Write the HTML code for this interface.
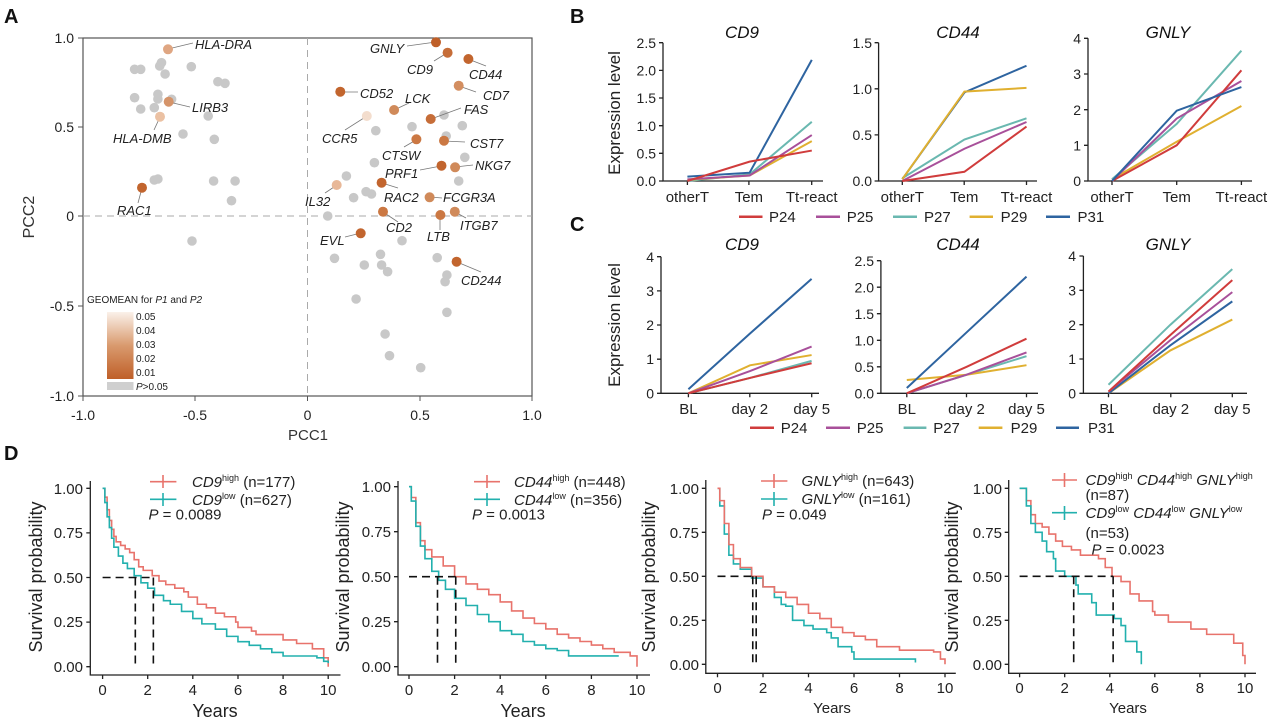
<!DOCTYPE html>
<html><head><meta charset="utf-8"><style>
body{margin:0;background:#fff}
svg{display:block;font-family:"Liberation Sans",Arial,sans-serif}
.it{font-style:italic}
.ax{stroke:#222;stroke-width:1.3;fill:none}
.ns{vector-effect:non-scaling-stroke;fill:none}
</style></head><body>
<svg width="1270" height="724" viewBox="0 0 1270 724" xmlns="http://www.w3.org/2000/svg">
<defs><linearGradient id="gr" x1="0" y1="0" x2="0" y2="1"><stop offset="0" stop-color="#fbf1ea"/><stop offset="0.5" stop-color="#d99a6e"/><stop offset="1" stop-color="#bf5f28"/></linearGradient></defs>
<g font-weight="bold" font-size="20" fill="#111"><text x="4" y="23">A</text><text x="570" y="23">B</text><text x="570" y="231">C</text><text x="4" y="460">D</text></g>

<!-- Panel A -->
<rect x="83" y="38" width="449" height="358" fill="none" stroke="#555" stroke-width="1.2"/>
<line x1="307.5" y1="38" x2="307.5" y2="396" stroke="#aaa" stroke-dasharray="7,5"/>
<line x1="83" y1="216" x2="532" y2="216" stroke="#aaa" stroke-dasharray="7,5"/>
<g stroke="#555"><line x1="78" y1="38" x2="83" y2="38"/><line x1="78" y1="127" x2="83" y2="127"/><line x1="78" y1="216" x2="83" y2="216"/><line x1="78" y1="306" x2="83" y2="306"/><line x1="78" y1="396" x2="83" y2="396"/>
<line x1="83" y1="396" x2="83" y2="401"/><line x1="195" y1="396" x2="195" y2="401"/><line x1="307.5" y1="396" x2="307.5" y2="401"/><line x1="420" y1="396" x2="420" y2="401"/><line x1="532" y1="396" x2="532" y2="401"/></g>
<g font-size="14" fill="#222" text-anchor="end"><text x="74" y="43">1.0</text><text x="74" y="132">0.5</text><text x="74" y="221">0</text><text x="74" y="311">-0.5</text><text x="74" y="401">-1.0</text></g>
<g font-size="14" fill="#222" text-anchor="middle"><text x="83" y="420">-1.0</text><text x="195" y="420">-0.5</text><text x="307.5" y="420">0</text><text x="420" y="420">0.5</text><text x="532" y="420">1.0</text></g>
<text x="308" y="440" font-size="15" text-anchor="middle" fill="#333">PCC1</text>
<text transform="translate(34,217) rotate(-90)" font-size="16" text-anchor="middle" fill="#333">PCC2</text>
<g fill="#c8c8c8">
<circle cx="134.6" cy="69.3" r="4.8"/><circle cx="140.7" cy="69.3" r="4.8"/><circle cx="161.5" cy="62.7" r="4.8"/><circle cx="159.7" cy="66" r="4.8"/><circle cx="165.1" cy="74" r="4.8"/><circle cx="191.3" cy="66.7" r="4.8"/><circle cx="217.9" cy="81.7" r="4.8"/><circle cx="225" cy="83.3" r="4.8"/><circle cx="134.6" cy="97.7" r="4.8"/><circle cx="157.9" cy="94.3" r="4.8"/><circle cx="157.9" cy="99" r="4.8"/><circle cx="171.6" cy="99.3" r="4.8"/><circle cx="140.7" cy="109" r="4.8"/><circle cx="154.3" cy="107.7" r="4.8"/><circle cx="208.2" cy="116" r="4.8"/><circle cx="183" cy="134" r="4.8"/><circle cx="214.3" cy="139.3" r="4.8"/><circle cx="154.3" cy="180" r="4.8"/><circle cx="157.9" cy="179" r="4.8"/><circle cx="213.6" cy="181" r="4.8"/><circle cx="235.1" cy="181" r="4.8"/><circle cx="231.5" cy="200.7" r="4.8"/><circle cx="192" cy="241" r="4.8"/>
<circle cx="375.8" cy="130.7" r="4.8"/><circle cx="412" cy="126.7" r="4.8"/><circle cx="444" cy="115" r="4.8"/><circle cx="462.3" cy="125.7" r="4.8"/><circle cx="446.2" cy="136" r="4.8"/><circle cx="464.8" cy="157.3" r="4.8"/><circle cx="374.4" cy="162.7" r="4.8"/><circle cx="346.4" cy="176" r="4.8"/><circle cx="458.7" cy="181" r="4.8"/><circle cx="366.1" cy="191.7" r="4.8"/><circle cx="371.5" cy="194" r="4.8"/><circle cx="353.6" cy="197.7" r="4.8"/><circle cx="327.7" cy="216" r="4.8"/><circle cx="402" cy="240.7" r="4.8"/><circle cx="334.5" cy="258.3" r="4.8"/><circle cx="364.3" cy="265" r="4.8"/><circle cx="380.5" cy="254.3" r="4.8"/><circle cx="381.6" cy="265" r="4.8"/><circle cx="387.6" cy="271.7" r="4.8"/><circle cx="437.2" cy="257.7" r="4.8"/><circle cx="446.9" cy="275" r="4.8"/><circle cx="445.1" cy="281.7" r="4.8"/><circle cx="356.1" cy="299" r="4.8"/><circle cx="446.9" cy="312.3" r="4.8"/><circle cx="385.1" cy="334" r="4.8"/><circle cx="389.5" cy="355.7" r="4.8"/><circle cx="420.7" cy="367.7" r="4.8"/>
</g>
<g stroke="#777" stroke-width="0.8">
<line x1="168" y1="49" x2="193" y2="43"/><line x1="169" y1="102" x2="190" y2="107"/><line x1="160" y1="117" x2="154" y2="130"/><line x1="142" y1="188" x2="138" y2="203"/>
<line x1="407" y1="46" x2="436" y2="42"/><line x1="434" y1="61" x2="447" y2="53"/><line x1="468" y1="59" x2="486" y2="66"/><line x1="459" y1="86" x2="476" y2="92"/>
<line x1="340" y1="92" x2="358" y2="92"/><line x1="394" y1="110" x2="409" y2="103"/><line x1="431" y1="119" x2="461" y2="108"/><line x1="367" y1="116" x2="345" y2="130"/>
<line x1="416" y1="140" x2="404" y2="147"/><line x1="444" y1="141" x2="465" y2="142"/><line x1="420" y1="170" x2="441" y2="166"/><line x1="455" y1="167" x2="473" y2="165"/>
<line x1="337" y1="185" x2="325" y2="193"/><line x1="382" y1="183" x2="398" y2="188"/><line x1="430" y1="197" x2="442" y2="198"/><line x1="383" y1="212" x2="398" y2="222"/>
<line x1="440" y1="215" x2="440" y2="230"/><line x1="455" y1="212" x2="466" y2="218"/><line x1="361" y1="233" x2="345" y2="237"/><line x1="457" y1="262" x2="481" y2="272"/>
</g>
<circle cx="168" cy="49.3" r="5" fill="#dfa682"/><circle cx="168.7" cy="101.7" r="5" fill="#d5946a"/><circle cx="160" cy="116.7" r="5" fill="#ebc1a3"/><circle cx="142" cy="187.7" r="5" fill="#c2652e"/>
<circle cx="436" cy="42.3" r="5" fill="#bf5f28"/><circle cx="447.6" cy="52.7" r="5" fill="#c66d38"/><circle cx="468.4" cy="59" r="5" fill="#c2652e"/><circle cx="458.7" cy="85.7" r="5" fill="#d38e60"/>
<circle cx="340.3" cy="91.7" r="5" fill="#c2652e"/><circle cx="394.1" cy="110" r="5" fill="#d08a5a"/><circle cx="430.7" cy="119" r="5" fill="#c66d38"/><circle cx="366.8" cy="116" r="5" fill="#f3ddcd"/>
<circle cx="416.4" cy="139.3" r="5" fill="#cb7843"/><circle cx="444" cy="140.7" r="5" fill="#cb7843"/><circle cx="441.5" cy="165.7" r="5" fill="#c2652e"/><circle cx="455.1" cy="167.3" r="5" fill="#d08a5a"/>
<circle cx="336.7" cy="185" r="5" fill="#e8b898"/><circle cx="381.6" cy="182.7" r="5" fill="#c2652e"/><circle cx="429.6" cy="197.3" r="5" fill="#d08a5a"/><circle cx="383" cy="211.7" r="5" fill="#cb7843"/>
<circle cx="440.4" cy="215" r="5" fill="#cb7843"/><circle cx="454.8" cy="211.7" r="5" fill="#d08a5a"/><circle cx="360.7" cy="233.3" r="5" fill="#c2652e"/><circle cx="456.6" cy="261.7" r="5" fill="#c2652e"/>
<g class="it" font-size="13" fill="#222">
<text x="195" y="49">HLA-DRA</text><text x="192" y="112">LIRB3</text><text x="113" y="143">HLA-DMB</text><text x="117" y="215">RAC1</text>
<text x="370" y="53">GNLY</text><text x="407" y="74">CD9</text><text x="469" y="79">CD44</text><text x="483" y="100">CD7</text>
<text x="360" y="98">CD52</text><text x="405" y="103">LCK</text><text x="464" y="114">FAS</text><text x="322" y="143">CCR5</text>
<text x="382" y="160">CTSW</text><text x="470" y="148">CST7</text><text x="385" y="178">PRF1</text><text x="475" y="170">NKG7</text>
<text x="305" y="206">IL32</text><text x="384" y="202">RAC2</text><text x="443" y="202">FCGR3A</text><text x="386" y="232">CD2</text>
<text x="427" y="241">LTB</text><text x="460" y="230">ITGB7</text><text x="320" y="245">EVL</text><text x="461" y="285">CD244</text>
</g>
<text x="87" y="303" font-size="10" fill="#222">GEOMEAN for <tspan class="it">P1</tspan> and <tspan class="it">P2</tspan></text>
<rect x="107" y="312" width="26.5" height="67" fill="url(#gr)"/>
<rect x="107" y="382" width="26.5" height="8" fill="#cfcfcf"/>
<g font-size="10" fill="#222"><text x="136" y="320">0.05</text><text x="136" y="334">0.04</text><text x="136" y="348">0.03</text><text x="136" y="362">0.02</text><text x="136" y="376">0.01</text><text x="136" y="390"><tspan class="it">P</tspan>&gt;0.05</text></g>

<!-- Panel B/C common text -->
<g font-size="17" class="it" text-anchor="middle" fill="#111">
<text x="742" y="38">CD9</text><text x="958" y="38">CD44</text><text x="1168" y="38">GNLY</text>
<text x="742" y="250">CD9</text><text x="958" y="250">CD44</text><text x="1168" y="250">GNLY</text></g>
<text transform="translate(620,113) rotate(-90)" font-size="17" text-anchor="middle" fill="#222">Expression level</text>
<text transform="translate(620,325) rotate(-90)" font-size="17" text-anchor="middle" fill="#222">Expression level</text>

<!-- B CD9 -->
<g class="ax"><path d="M663 42.7V181H823"/><path d="M659 42.7h4M659 70.4h4M659 98h4M659 125.7h4M659 153.3h4M659 181h4M687.4 181v4M748.9 181v4M811.7 181v4"/></g>
<g font-size="14" fill="#222" text-anchor="end"><text x="656" y="48">2.5</text><text x="656" y="75.5">2.0</text><text x="656" y="103">1.5</text><text x="656" y="131">1.0</text><text x="656" y="158.5">0.5</text><text x="656" y="186">0.0</text></g>
<g transform="translate(687.4,181) scale(62.2,-55.32)" stroke-width="2">
<polyline class="ns" stroke="#6ab8b0" points="0,0 1,0.12 2,1.07"/><polyline class="ns" stroke="#e0b030" points="0,0.02 1,0.1 2,0.72"/><polyline class="ns" stroke="#a8509a" points="0,0.03 1,0.1 2,0.83"/><polyline class="ns" stroke="#2e64a0" points="0,0.08 1,0.15 2,2.19"/><polyline class="ns" stroke="#d03c3c" points="0,0 1,0.35 2,0.55"/></g>
<!-- B CD44 -->
<g class="ax"><path d="M878.6 42.7V181H1037"/><path d="M874.6 42.7h4M874.6 88.8h4M874.6 134.9h4M874.6 181h4M902.3 181v4M964.2 181v4M1026.5 181v4"/></g>
<g font-size="14" fill="#222" text-anchor="end"><text x="872" y="48">1.5</text><text x="872" y="94">1.0</text><text x="872" y="140">0.5</text><text x="872" y="186">0.0</text></g>
<g transform="translate(902.3,181) scale(62.1,-92.2)" stroke-width="2">
<polyline class="ns" stroke="#6ab8b0" points="0,0.03 1,0.45 2,0.68"/><polyline class="ns" stroke="#a8509a" points="0,0 1,0.35 2,0.64"/><polyline class="ns" stroke="#d03c3c" points="0,0 1,0.1 2,0.59"/><polyline class="ns" stroke="#2e64a0" points="0,0.02 1,0.96 2,1.25"/><polyline class="ns" stroke="#e0b030" points="0,0.02 1,0.97 2,1.01"/></g>
<!-- B GNLY -->
<g class="ax"><path d="M1088 38.3V181H1252"/><path d="M1084 38.3h4M1084 74h4M1084 109.7h4M1084 145.3h4M1084 181h4M1112 181v4M1176.7 181v4M1241.4 181v4"/></g>
<g font-size="14" fill="#222" text-anchor="end"><text x="1081" y="43.5">4</text><text x="1081" y="79">3</text><text x="1081" y="115">2</text><text x="1081" y="150.5">1</text><text x="1081" y="186">0</text></g>
<g transform="translate(1112,181) scale(64.7,-35.7)" stroke-width="2">
<polyline class="ns" stroke="#e0b030" points="0,0.05 1,1.1 2,2.1"/><polyline class="ns" stroke="#6ab8b0" points="0,0.05 1,1.6 2,3.65"/><polyline class="ns" stroke="#a8509a" points="0,0 1,1.75 2,2.8"/><polyline class="ns" stroke="#d03c3c" points="0,0 1,1.0 2,3.1"/><polyline class="ns" stroke="#2e64a0" points="0,0 1,1.97 2,2.63"/></g>
<g font-size="15" fill="#222" text-anchor="middle"><text x="687.4" y="202">otherT</text><text x="748.9" y="202">Tem</text><text x="811.7" y="202">Tt-react</text><text x="902.3" y="202">otherT</text><text x="964.2" y="202">Tem</text><text x="1026.5" y="202">Tt-react</text><text x="1112" y="202">otherT</text><text x="1176.7" y="202">Tem</text><text x="1241.4" y="202">Tt-react</text></g>
<g stroke-width="2.5"><line x1="739" y1="216.7" x2="762.5" y2="216.7" stroke="#d03c3c"/><line x1="816" y1="216.7" x2="840" y2="216.7" stroke="#a8509a"/><line x1="893" y1="216.7" x2="917" y2="216.7" stroke="#6ab8b0"/><line x1="969.6" y1="216.7" x2="993" y2="216.7" stroke="#e0b030"/><line x1="1046" y1="216.7" x2="1070" y2="216.7" stroke="#2e64a0"/></g>
<g font-size="15" fill="#222"><text x="769" y="222">P24</text><text x="846.7" y="222">P25</text><text x="924" y="222">P27</text><text x="1000.6" y="222">P29</text><text x="1077.5" y="222">P31</text></g>

<!-- C CD9 -->
<g class="ax"><path d="M661 256.7V393.3H819"/><path d="M657 256.7h4M657 290.9h4M657 325h4M657 359.2h4M657 393.3h4M688.4 393.3v4M749.8 393.3v4M811.7 393.3v4"/></g>
<g font-size="14" fill="#222" text-anchor="end"><text x="654" y="262">4</text><text x="654" y="296">3</text><text x="654" y="330">2</text><text x="654" y="364">1</text><text x="654" y="398.5">0</text></g>
<g transform="translate(688.4,393.3) scale(61.6,-34.15)" stroke-width="2">
<polyline class="ns" stroke="#6ab8b0" points="0,0 1,0.45 2,0.95"/><polyline class="ns" stroke="#e0b030" points="0,0 1,0.82 2,1.12"/><polyline class="ns" stroke="#a8509a" points="0,0 1,0.65 2,1.37"/><polyline class="ns" stroke="#d03c3c" points="0,0 1,0.45 2,0.88"/><polyline class="ns" stroke="#2e64a0" points="0,0.12 1,1.75 2,3.35"/></g>
<!-- C CD44 -->
<g class="ax"><path d="M880.9 260.7V393.3H1038"/><path d="M876.9 260.7h4M876.9 287.2h4M876.9 313.7h4M876.9 340.3h4M876.9 366.8h4M876.9 393.3h4M906.8 393.3v4M966.5 393.3v4M1026.5 393.3v4"/></g>
<g font-size="14" fill="#222" text-anchor="end"><text x="874" y="266">2.5</text><text x="874" y="292.5">2.0</text><text x="874" y="319">1.5</text><text x="874" y="345.5">1.0</text><text x="874" y="372">0.5</text><text x="874" y="398.5">0.0</text></g>
<g transform="translate(906.8,393.3) scale(59.85,-53.04)" stroke-width="2">
<polyline class="ns" stroke="#6ab8b0" points="0,0 1,0.35 2,0.7"/><polyline class="ns" stroke="#e0b030" points="0,0.25 1,0.35 2,0.53"/><polyline class="ns" stroke="#a8509a" points="0,0 1,0.35 2,0.77"/><polyline class="ns" stroke="#d03c3c" points="0,0 1,0.5 2,1.03"/><polyline class="ns" stroke="#2e64a0" points="0,0.1 1,1.15 2,2.2"/></g>
<!-- C GNLY -->
<g class="ax"><path d="M1083.4 256V393.3H1247"/><path d="M1079.4 256h4M1079.4 290.3h4M1079.4 324.7h4M1079.4 359h4M1079.4 393.3h4M1108.5 393.3v4M1170.8 393.3v4M1232.3 393.3v4"/></g>
<g font-size="14" fill="#222" text-anchor="end"><text x="1076" y="261">4</text><text x="1076" y="295.5">3</text><text x="1076" y="330">2</text><text x="1076" y="364">1</text><text x="1076" y="398.5">0</text></g>
<g transform="translate(1108.5,393.3) scale(61.9,-34.3)" stroke-width="2">
<polyline class="ns" stroke="#e0b030" points="0,0 1,1.25 2,2.15"/><polyline class="ns" stroke="#2e64a0" points="0,0 1,1.4 2,2.68"/><polyline class="ns" stroke="#a8509a" points="0,0.05 1,1.55 2,2.95"/><polyline class="ns" stroke="#d03c3c" points="0,0.05 1,1.7 2,3.3"/><polyline class="ns" stroke="#6ab8b0" points="0,0.25 1,2.0 2,3.62"/></g>
<g font-size="15" fill="#222" text-anchor="middle"><text x="688.4" y="414">BL</text><text x="749.8" y="414">day 2</text><text x="811.7" y="414">day 5</text><text x="906.8" y="414">BL</text><text x="966.5" y="414">day 2</text><text x="1026.5" y="414">day 5</text><text x="1108.5" y="414">BL</text><text x="1170.8" y="414">day 2</text><text x="1232.3" y="414">day 5</text></g>
<g stroke-width="2.5"><line x1="750" y1="427.7" x2="774" y2="427.7" stroke="#d03c3c"/><line x1="826" y1="427.7" x2="850" y2="427.7" stroke="#a8509a"/><line x1="903.6" y1="427.7" x2="926.4" y2="427.7" stroke="#6ab8b0"/><line x1="978.7" y1="427.7" x2="1002.4" y2="427.7" stroke="#e0b030"/><line x1="1056" y1="427.7" x2="1079" y2="427.7" stroke="#2e64a0"/></g>
<g font-size="15" fill="#222"><text x="780.8" y="433">P24</text><text x="856.8" y="433">P25</text><text x="933.2" y="433">P27</text><text x="1010.6" y="433">P29</text><text x="1088" y="433">P31</text></g>

<!-- Panel D -->
<!-- D1 -->
<g class="ax"><path d="M90.3 481V675H340.5"/><path d="M86.3 488.3h4M86.3 532.9h4M86.3 577.5h4M86.3 622.1h4M86.3 666.7h4M102.6 675v4M147.7 675v4M192.8 675v4M238 675v4M283.1 675v4M328.2 675v4"/></g>
<g font-size="15" fill="#222" text-anchor="end"><text x="83" y="494">1.00</text><text x="83" y="538">0.75</text><text x="83" y="583">0.50</text><text x="83" y="627">0.25</text><text x="83" y="672">0.00</text></g>
<g font-size="15" fill="#222" text-anchor="middle"><text x="102.6" y="695">0</text><text x="147.7" y="695">2</text><text x="192.8" y="695">4</text><text x="238" y="695">6</text><text x="283.1" y="695">8</text><text x="328.2" y="695">10</text></g>
<text x="215" y="717" font-size="18" text-anchor="middle" fill="#222">Years</text>
<text transform="translate(42,577) rotate(-90)" font-size="18" text-anchor="middle" fill="#222">Survival probability</text>
<g transform="translate(102.6,666.7) scale(22.56,-178.4)" stroke-width="1.6">
<path class="ns" stroke="#e8736c" d="M0 1H0.1V0.95H0.2V0.88H0.3V0.82H0.4V0.77H0.5V0.73H0.6V0.7H0.8V0.68H1V0.66H1.2V0.64H1.4V0.6H1.6V0.56H1.8V0.54H2.2V0.51H2.5V0.48H2.8V0.46H3.2V0.44H3.6V0.42H3.8V0.39H4.2V0.35H4.6V0.33H5V0.3H5.4V0.28H5.9V0.25H6V0.22H6.6V0.2H6.8V0.18H8V0.15H8.6V0.13H9.3V0.1H9.8V0.05H10V0"/>
<path class="ns" stroke="#22b0ae" d="M0 1H0.1V0.92H0.2V0.84H0.3V0.78H0.4V0.72H0.5V0.67H0.7V0.62H0.9V0.58H1.1V0.55H1.4V0.51H1.7V0.47H2V0.44H2.3V0.4H2.7V0.37H3V0.35H3.5V0.31H4V0.27H4.4V0.24H5V0.21H5.5V0.17H6V0.14H6.5V0.12H7V0.1H7.5V0.08H8V0.06H9.5V0.05H9.8V0.03H10V0.02"/>
<path class="ns" stroke="#111" stroke-dasharray="8,5" d="M0 0.5H2.25M1.45 0.5V0M2.25 0.5V0"/></g>
<g stroke-width="1.6"><line x1="150" y1="481.7" x2="176.4" y2="481.7" stroke="#e8736c"/><line x1="163" y1="475" x2="163" y2="488" stroke="#e8736c"/><line x1="150" y1="499.3" x2="176.4" y2="499.3" stroke="#22b0ae"/><line x1="163" y1="493" x2="163" y2="506" stroke="#22b0ae"/></g>
<g font-size="15" fill="#222"><text x="192" y="487"><tspan class="it">CD9</tspan><tspan font-size="9" dy="-6">high</tspan><tspan dy="6"> (n=177)</tspan></text><text x="192" y="505"><tspan class="it">CD9</tspan><tspan font-size="9" dy="-6">low</tspan><tspan dy="6"> (n=627)</tspan></text><text x="148.5" y="519.5"><tspan class="it">P</tspan> = 0.0089</text></g>
<!-- D2 -->
<g class="ax"><path d="M398 481V675H650"/><path d="M394 486.7h4M394 531.7h4M394 576.7h4M394 621.7h4M394 666.7h4M409 675v4M454.6 675v4M500.2 675v4M545.8 675v4M591.4 675v4M637 675v4"/></g>
<g font-size="15" fill="#222" text-anchor="end"><text x="391" y="492">1.00</text><text x="391" y="537">0.75</text><text x="391" y="582">0.50</text><text x="391" y="627">0.25</text><text x="391" y="672">0.00</text></g>
<g font-size="15" fill="#222" text-anchor="middle"><text x="409" y="695">0</text><text x="454.6" y="695">2</text><text x="500.2" y="695">4</text><text x="545.8" y="695">6</text><text x="591.4" y="695">8</text><text x="637" y="695">10</text></g>
<text x="523" y="717" font-size="18" text-anchor="middle" fill="#222">Years</text>
<text transform="translate(349,577) rotate(-90)" font-size="18" text-anchor="middle" fill="#222">Survival probability</text>
<g transform="translate(409,666.7) scale(22.8,-180)" stroke-width="1.6">
<path class="ns" stroke="#e8736c" d="M0 1H0.1V0.94H0.3V0.8H0.5V0.7H0.7V0.65H1V0.61H1.5V0.56H2V0.5H2.5V0.46H3V0.43H3.5V0.4H4V0.36H4.5V0.31H5V0.27H5.5V0.24H6V0.21H6.5V0.18H7V0.16H7.5V0.14H8V0.12H8.5V0.1H9V0.08H9.7V0.06H10V0"/>
<path class="ns" stroke="#22b0ae" d="M0 1H0.1V0.92H0.3V0.78H0.5V0.67H0.7V0.6H1V0.53H1.3V0.48H1.6V0.43H2V0.38H2.5V0.34H3V0.29H3.5V0.25H4V0.2H4.5V0.18H5V0.14H5.5V0.12H6V0.1H6.5V0.09H7V0.06H9.2"/>
<path class="ns" stroke="#111" stroke-dasharray="8,5" d="M0 0.5H2.05M1.25 0.5V0M2.05 0.5V0"/></g>
<g stroke-width="1.6"><line x1="474" y1="481.7" x2="500" y2="481.7" stroke="#e8736c"/><line x1="487" y1="475" x2="487" y2="488" stroke="#e8736c"/><line x1="474" y1="499.3" x2="500" y2="499.3" stroke="#22b0ae"/><line x1="487" y1="493" x2="487" y2="506" stroke="#22b0ae"/></g>
<g font-size="15" fill="#222"><text x="514" y="487"><tspan class="it">CD44</tspan><tspan font-size="9" dy="-6">high</tspan><tspan dy="6"> (n=448)</tspan></text><text x="514" y="505"><tspan class="it">CD44</tspan><tspan font-size="9" dy="-6">low</tspan><tspan dy="6"> (n=356)</tspan></text><text x="472" y="519.5"><tspan class="it">P</tspan> = 0.0013</text></g>
<!-- D3 -->
<g class="ax"><path d="M705.8 480V673.3H955.8"/><path d="M701.8 488.3h4M701.8 532.3h4M701.8 576.3h4M701.8 620.3h4M701.8 664.3h4M717.5 673.3v4M763 673.3v4M808.5 673.3v4M854 673.3v4M899.5 673.3v4M945 673.3v4"/></g>
<g font-size="15" fill="#222" text-anchor="end"><text x="699" y="494">1.00</text><text x="699" y="538">0.75</text><text x="699" y="582">0.50</text><text x="699" y="626">0.25</text><text x="699" y="670">0.00</text></g>
<g font-size="15" fill="#222" text-anchor="middle"><text x="717.5" y="693">0</text><text x="763" y="693">2</text><text x="808.5" y="693">4</text><text x="854" y="693">6</text><text x="899.5" y="693">8</text><text x="945" y="693">10</text></g>
<text x="832" y="713" font-size="15" text-anchor="middle" fill="#222">Years</text>
<text transform="translate(655,577) rotate(-90)" font-size="18" text-anchor="middle" fill="#222">Survival probability</text>
<g transform="translate(717.5,664.3) scale(22.75,-176)" stroke-width="1.6">
<path class="ns" stroke="#22b0ae" d="M0 1H0.1V0.9H0.3V0.74H0.5V0.62H0.7V0.57H1V0.54H1.5V0.49H2V0.44H2.5V0.38H2.8V0.34H3V0.33H3.3V0.25H3.8V0.22H4.2V0.2H4.8V0.18H5V0.15H5.3V0.1H5.9V0.07H6V0.03H8.7V0.01"/>
<path class="ns" stroke="#e8736c" d="M0 1H0.1V0.93H0.3V0.8H0.5V0.68H0.7V0.6H1V0.55H1.5V0.5H2V0.44H2.5V0.41H3V0.38H3.5V0.34H4V0.29H4.5V0.26H5V0.21H5.5V0.18H6V0.16H6.5V0.14H7V0.1H8V0.08H9.5V0.07H9.8V0.03H10V0"/>
<path class="ns" stroke="#111" stroke-dasharray="8,5" d="M0 0.5H1.7M1.55 0.5V0M1.7 0.5V0"/></g>
<g stroke-width="1.6"><line x1="761" y1="481" x2="787.4" y2="481" stroke="#e8736c"/><line x1="774" y1="474" x2="774" y2="488" stroke="#e8736c"/><line x1="761" y1="499" x2="787.4" y2="499" stroke="#22b0ae"/><line x1="774" y1="492" x2="774" y2="506" stroke="#22b0ae"/></g>
<g font-size="15" fill="#222"><text x="801.5" y="486"><tspan class="it">GNLY</tspan><tspan font-size="9" dy="-6">high</tspan><tspan dy="6"> (n=643)</tspan></text><text x="801.5" y="504"><tspan class="it">GNLY</tspan><tspan font-size="9" dy="-6">low</tspan><tspan dy="6"> (n=161)</tspan></text><text x="762" y="519.5"><tspan class="it">P</tspan> = 0.049</text></g>
<!-- D4 -->
<g class="ax"><path d="M1008.7 480V673.3H1256"/><path d="M1004.7 488.3h4M1004.7 532.3h4M1004.7 576.3h4M1004.7 620.3h4M1004.7 664.3h4M1019.6 673.3v4M1064.7 673.3v4M1109.8 673.3v4M1154.8 673.3v4M1199.9 673.3v4M1245 673.3v4"/></g>
<g font-size="15" fill="#222" text-anchor="end"><text x="1002" y="494">1.00</text><text x="1002" y="538">0.75</text><text x="1002" y="582">0.50</text><text x="1002" y="626">0.25</text><text x="1002" y="670">0.00</text></g>
<g font-size="15" fill="#222" text-anchor="middle"><text x="1019.6" y="693">0</text><text x="1064.7" y="693">2</text><text x="1109.8" y="693">4</text><text x="1154.8" y="693">6</text><text x="1199.9" y="693">8</text><text x="1245" y="693">10</text></g>
<text x="1128" y="713" font-size="15" text-anchor="middle" fill="#222">Years</text>
<text transform="translate(958,577) rotate(-90)" font-size="18" text-anchor="middle" fill="#222">Survival probability</text>
<g transform="translate(1019.6,664.3) scale(22.54,-176)" stroke-width="1.6">
<path class="ns" stroke="#e8736c" d="M0 1H0.3V0.93H0.5V0.85H0.7V0.8H1V0.78H1.3V0.74H1.6V0.7H1.9V0.67H2.3V0.65H2.7V0.62H3.5V0.6H3.8V0.55H4.1V0.5H4.5V0.47H4.9V0.4H5.3V0.36H5.9V0.3H6V0.28H6.6V0.24H7.6V0.2H8.3V0.17H9.5V0.12H9.9V0.05H10V0"/>
<path class="ns" stroke="#22b0ae" d="M0 1H0.3V0.9H0.5V0.8H0.7V0.75H1V0.7H1.2V0.64H1.5V0.6H1.6V0.53H2V0.5H2.5V0.45H2.6V0.4H3.2V0.35H3.4V0.28H4.2V0.26H4.5V0.22H4.7V0.13H5.2V0.07H5.4V0"/>
<path class="ns" stroke="#111" stroke-dasharray="8,5" d="M0 0.5H4.15M2.4 0.5V0M4.15 0.5V0"/></g>
<g stroke-width="1.6"><line x1="1052" y1="480" x2="1077" y2="480" stroke="#e8736c"/><line x1="1064.5" y1="473" x2="1064.5" y2="487" stroke="#e8736c"/><line x1="1052" y1="512.7" x2="1077" y2="512.7" stroke="#22b0ae"/><line x1="1064.5" y1="506" x2="1064.5" y2="520" stroke="#22b0ae"/></g>
<g font-size="15" fill="#222"><text x="1085.5" y="485"><tspan class="it">CD9</tspan><tspan font-size="9" dy="-6">high</tspan><tspan dy="6" class="it"> CD44</tspan><tspan font-size="9" dy="-6">high</tspan><tspan dy="6" class="it"> GNLY</tspan><tspan font-size="9" dy="-6">high</tspan></text>
<text x="1085.5" y="500">(n=87)</text>
<text x="1085.5" y="518"><tspan class="it">CD9</tspan><tspan font-size="9" dy="-6">low</tspan><tspan dy="6" class="it"> CD44</tspan><tspan font-size="9" dy="-6">low</tspan><tspan dy="6" class="it"> GNLY</tspan><tspan font-size="9" dy="-6">low</tspan></text>
<text x="1085.5" y="538">(n=53)</text><text x="1091.5" y="554.5"><tspan class="it">P</tspan> = 0.0023</text></g>
</svg>
</body></html>
